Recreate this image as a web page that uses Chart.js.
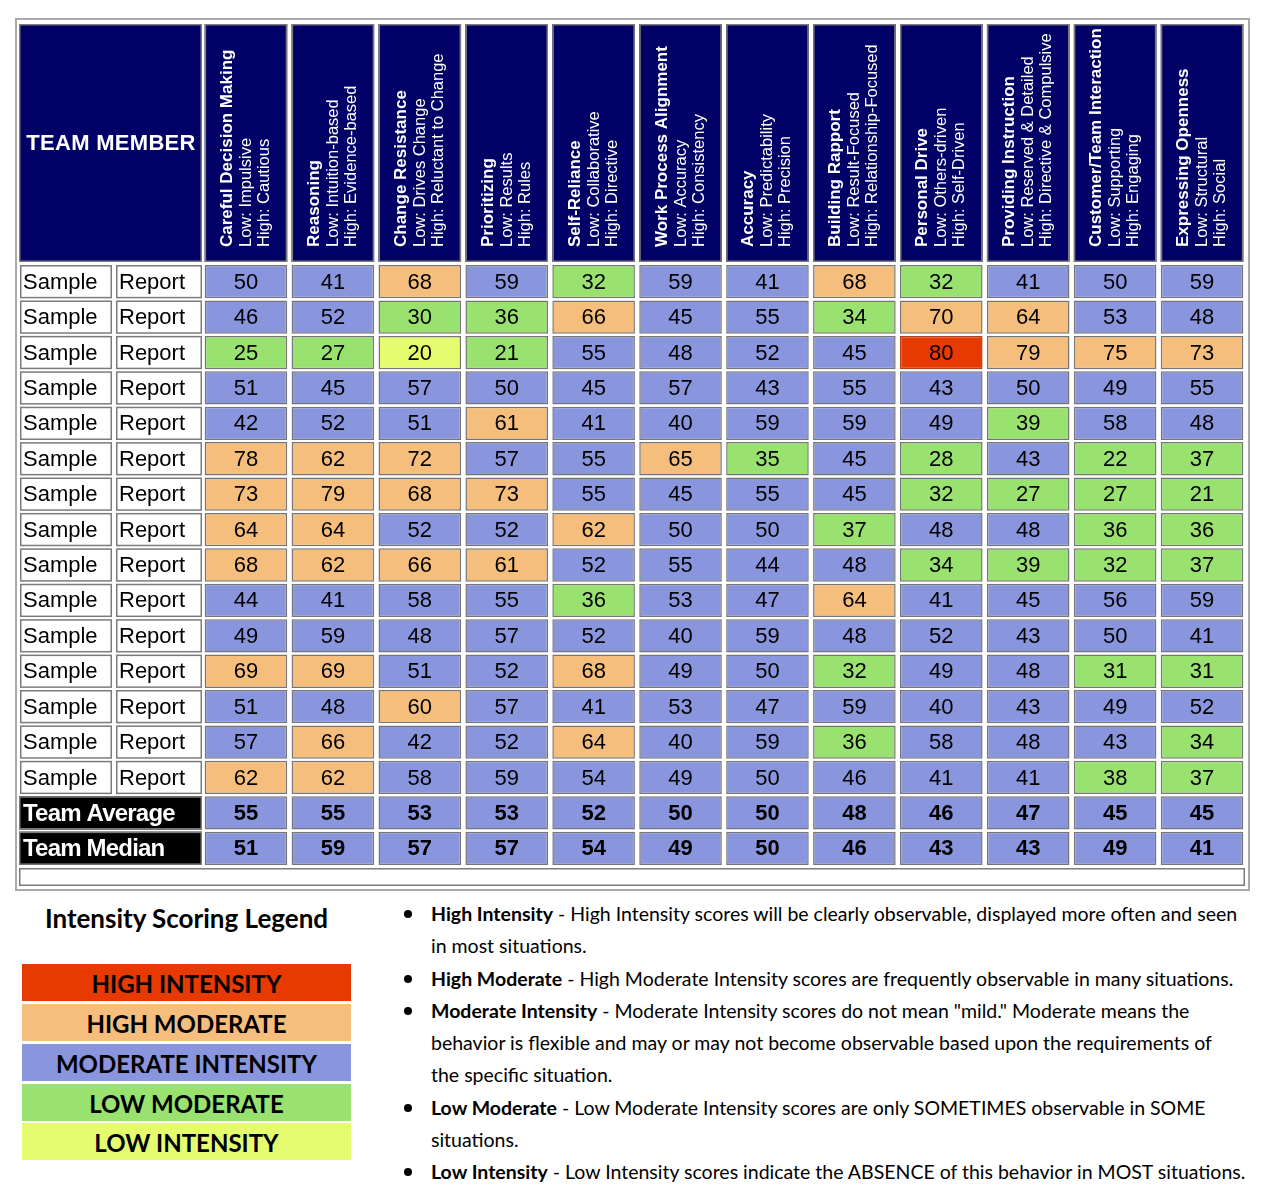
<!DOCTYPE html>
<html>
<head>
<meta charset="utf-8">
<script src="https://cdn.jsdelivr.net/npm/chart.js@4.4.1/dist/chart.umd.min.js"></script>
<style>
  body { margin: 0; background: #fff; width: 1267px; height: 1198px; position: relative; overflow: hidden; }
  #grid { position: absolute; left: 0; top: 0; }
  .legendTitle { position: absolute; left: 22px; width: 329px; top: 902px; text-align: center;
    font: bold 26px Lato, "Noto Sans", sans-serif; color: #000; }
  .band { position: absolute; left: 22px; width: 329px; height: 37px; box-sizing: border-box; padding-top: 5px;
    line-height: 34px; text-align: center; font: bold 24px Lato, "Noto Sans", sans-serif; color: #000; }
  .notes { position: absolute; left: 400px; top: 898px; width: 867px; font: 19.5px Lato, "Noto Sans", sans-serif;
    line-height: 32.3px; color: #000; }
  .notes div { position: relative; padding-left: 31px; white-space: nowrap; }
  .notes div::before { content: ""; position: absolute; left: 4px; top: 12px; width: 8px; height: 8px; border-radius: 50%; background: #000; }
  .notes div.cont::before { display: none; }
</style>
</head>
<body>
<canvas id="grid" width="1267" height="895"></canvas>
<div id="legend"></div>
<script>
const canvasG = document.getElementById('grid');

const traits = ['Careful Decision Making', 'Reasoning', 'Change Resistance', 'Prioritizing', 'Self-Reliance',
  'Work Process Alignment', 'Accuracy', 'Building Rapport', 'Personal Drive', 'Providing Instruction',
  'Customer/Team Interaction', 'Expressing Openness'];
const lowLabels = ['Low: Impulsive', 'Low: Intuition-based', 'Low: Drives Change', 'Low: Results', 'Low: Collaborative',
  'Low: Accuracy', 'Low: Predictability', 'Low: Result-Focused', 'Low: Others-driven', 'Low: Reserved & Detailed',
  'Low: Supporting', 'Low: Structural'];
const highLabels = ['High: Cautious', 'High: Evidence-based', 'High: Reluctant to Change', 'High: Rules', 'High: Directive',
  'High: Consistency', 'High: Precision', 'High: Relationship-Focused', 'High: Self-Driven', 'High: Directive & Compulsive',
  'High: Engaging', 'High: Social'];

const firstNames = ['Sample', 'Sample', 'Sample', 'Sample', 'Sample', 'Sample', 'Sample', 'Sample',
  'Sample', 'Sample', 'Sample', 'Sample', 'Sample', 'Sample', 'Sample'];
const lastNames = ['Report', 'Report', 'Report', 'Report', 'Report', 'Report', 'Report', 'Report',
  'Report', 'Report', 'Report', 'Report', 'Report', 'Report', 'Report'];

const memberScores = [
  [50, 41, 68, 59, 32, 59, 41, 68, 32, 41, 50, 59],
  [46, 52, 30, 36, 66, 45, 55, 34, 70, 64, 53, 48],
  [25, 27, 20, 21, 55, 48, 52, 45, 80, 79, 75, 73],
  [51, 45, 57, 50, 45, 57, 43, 55, 43, 50, 49, 55],
  [42, 52, 51, 61, 41, 40, 59, 59, 49, 39, 58, 48],
  [78, 62, 72, 57, 55, 65, 35, 45, 28, 43, 22, 37],
  [73, 79, 68, 73, 55, 45, 55, 45, 32, 27, 27, 21],
  [64, 64, 52, 52, 62, 50, 50, 37, 48, 48, 36, 36],
  [68, 62, 66, 61, 52, 55, 44, 48, 34, 39, 32, 37],
  [44, 41, 58, 55, 36, 53, 47, 64, 41, 45, 56, 59],
  [49, 59, 48, 57, 52, 40, 59, 48, 52, 43, 50, 41],
  [69, 69, 51, 52, 68, 49, 50, 32, 49, 48, 31, 31],
  [51, 48, 60, 57, 41, 53, 47, 59, 40, 43, 49, 52],
  [57, 66, 42, 52, 64, 40, 59, 36, 58, 48, 43, 34],
  [62, 62, 58, 59, 54, 49, 50, 46, 41, 41, 38, 37]
];
const teamAverage = [55, 55, 53, 53, 52, 50, 50, 48, 46, 47, 45, 45];
const teamMedian = [51, 59, 57, 57, 54, 49, 50, 46, 43, 43, 49, 41];

const bandNames = ['HIGH INTENSITY', 'HIGH MODERATE', 'MODERATE INTENSITY', 'LOW MODERATE', 'LOW INTENSITY'];
const bandFloors = [80, 60, 40, 21, 0];
const bandColors = ['rgb(230, 58, 0)', 'rgb(246, 190, 124)', 'rgb(137, 150, 221)', 'rgb(154, 226, 112)', 'rgb(228, 252, 110)'];

const noteTerms = ['High Intensity', 'High Moderate', 'Moderate Intensity', 'Low Moderate', 'Low Intensity'];
const noteLines = [
  [' - High Intensity scores will be clearly observable, displayed more often and seen', 'in most situations.'],
  [' - High Moderate Intensity scores are frequently observable in many situations.'],
  [' - Moderate Intensity scores do not mean "mild." Moderate means the', 'behavior is flexible and may or may not become observable based upon the requirements of', 'the specific situation.'],
  [' - Low Moderate Intensity scores are only SOMETIMES observable in SOME', 'situations.'],
  [' - Low Intensity scores indicate the ABSENCE of this behavior in MOST situations.']
];

const bandColor = (v)=>{
  const i = bandFloors.findIndex(f => v >= f);
  return bandColors[i];
};

const allRows = [...memberScores, teamAverage, teamMedian];
const summaryNames = ['Team Average', 'Team Median'];

// table furniture: header, name cells, frame, numbers
const tablePlugin = {
  id: 'tablePlugin',
  beforeDatasetsDraw(chart){
    const {ctx, scales: {x, y}} = chart;
    const half = (x.getPixelForValue(1) - x.getPixelForValue(0)) / 2;
    const w = half * 2 * 0.95;
    ctx.save();

    // outer frame
    ctx.strokeStyle = '#a9a9a9';
    ctx.lineWidth = 2;
    ctx.strokeRect(16, 19, 1233, 871);

    const cell = (x0, y0, cw, ch, fill)=>{
      ctx.fillStyle = fill;
      ctx.fillRect(x0, y0, cw, ch);
      ctx.strokeStyle = '#7b7b7b';
      ctx.lineWidth = 1.5;
      ctx.strokeRect(x0 + 0.75, y0 + 0.75, cw - 1.5, ch - 1.5);
    };

    // header
    const hTop = 24, hBot = 262;
    cell(19, hTop, 183, hBot - hTop, '#000066');
    ctx.fillStyle = '#fff';
    ctx.font = 'bold 22px "Liberation Sans", Arial, sans-serif';
    ctx.letterSpacing = '0.3px';
    ctx.textAlign = 'center';
    ctx.textBaseline = 'middle';
    ctx.fillText('TEAM MEMBER', 111, 144);
    ctx.letterSpacing = '0px';

    traits.forEach((t, c)=>{
      const cx = x.getPixelForValue(c);
      cell(cx - w / 2, hTop, w, hBot - hTop, '#000066');
      ctx.save();
      ctx.translate(cx, 247);
      ctx.rotate(-Math.PI / 2);
      ctx.fillStyle = '#fff';
      ctx.textAlign = 'left';
      ctx.textBaseline = 'alphabetic';
      ctx.font = 'bold 17px "Liberation Sans", Arial, sans-serif';
      ctx.fillText(t, 0, -14);
      ctx.font = '16.5px "Liberation Sans", Arial, sans-serif';
      ctx.fillText(lowLabels[c], 0, 5);
      ctx.fillText(highLabels[c], 0, 23);
      ctx.restore();
    });

    // name cells
    allRows.forEach((row, r)=>{
      const top = y.getPixelForValue(r + 0.03);
      const bot = y.getPixelForValue(r + 0.97);
      const mid = (top + bot) / 2;
      ctx.textAlign = 'left';
      ctx.textBaseline = 'middle';
      if(r < memberScores.length){
        cell(20, top, 92, bot - top, '#fff');
        cell(116, top, 86, bot - top, '#fff');
        ctx.fillStyle = '#000';
        ctx.font = '22px "Liberation Sans", Arial, sans-serif';
        ctx.fillText(firstNames[r], 23, mid + 1);
        ctx.fillText(lastNames[r], 119, mid + 1);
      } else {
        cell(19, top, 183, bot - top, '#000');
        ctx.fillStyle = '#fff';
        ctx.font = 'bold 24px "Liberation Sans", Arial, sans-serif';
        ctx.letterSpacing = '-0.8px';
        ctx.fillText(summaryNames[r - memberScores.length], 23, mid + 1);
        ctx.letterSpacing = '0px';
      }
    });

    // empty footer row
    const fTop = y.getPixelForValue(allRows.length) + 2;
    cell(19, fTop, 1226, 18, '#fff');
    ctx.restore();
  },
  afterDatasetsDraw(chart){
    const {ctx} = chart;
    ctx.save();
    ctx.fillStyle = '#000';
    ctx.textAlign = 'center';
    ctx.textBaseline = 'middle';
    chart.data.datasets.forEach((ds, r)=>{
      const meta = chart.getDatasetMeta(r);
      ctx.font = (r < memberScores.length ? '' : 'bold ') + '22px "Liberation Sans", Arial, sans-serif';
      meta.data.forEach((bar, c)=>{
        const p = bar.getProps(['x', 'y', 'base'], true);
        ctx.fillText(String(ds.data[c].v), p.x, (p.y + p.base) / 2 + 1);
      });
    });
    ctx.restore();
  }
};

const datasets = allRows.map((row, r)=>({
  label: r < memberScores.length ? firstNames[r] + ' ' + lastNames[r] : summaryNames[r - memberScores.length],
  data: row.map((v, c)=>({x: traits[c], y: [r + 0.03, r + 0.97], v})),
  backgroundColor: row.map(bandColor),
  borderColor: row.map(v => v >= 80 ? '#b04020' : '#767676'),
  borderWidth: 1.5,
  borderSkipped: false,
  grouped: false,
  barPercentage: 0.95,
  categoryPercentage: 1
}));

const gridChart = new Chart(canvasG, {
  type: 'bar',
  data: { labels: traits, datasets },
  options: {
    responsive: false,
    animation: false,
    layout: { padding: { left: 202.5, right: 21.5, top: 264, bottom: 29 } },
    scales: {
      x: { type: 'category', display: false, offset: true, grid: { display: false } },
      y: { type: 'linear', display: false, min: 0, max: allRows.length, reverse: true, grid: { display: false } }
    },
    plugins: { legend: { display: false }, tooltip: { enabled: false } }
  },
  plugins: [tablePlugin]
});

// legend below the grid
const legendBox = document.getElementById('legend');
const esc = s => s.replace(/&/g, '&amp;').replace(/"/g, '&quot;');
let html = '<div class="legendTitle">Intensity Scoring Legend</div>';
const bandTops = [964, 1004, 1044, 1084, 1123];
bandNames.forEach((n, i)=>{
  html += `<div class="band" style="top:${bandTops[i]}px;background:${bandColors[i]}">${n}</div>`;
});
html += '<div class="notes">';
noteTerms.forEach((t, i)=>{
  html += `<div><b>${t}</b>${esc(noteLines[i][0])}</div>`;
  noteLines[i].slice(1).forEach(l => { html += `<div class="cont">${esc(l)}</div>`; });
});
html += '</div>';
legendBox.innerHTML = html;
</script>
</body>
</html>
